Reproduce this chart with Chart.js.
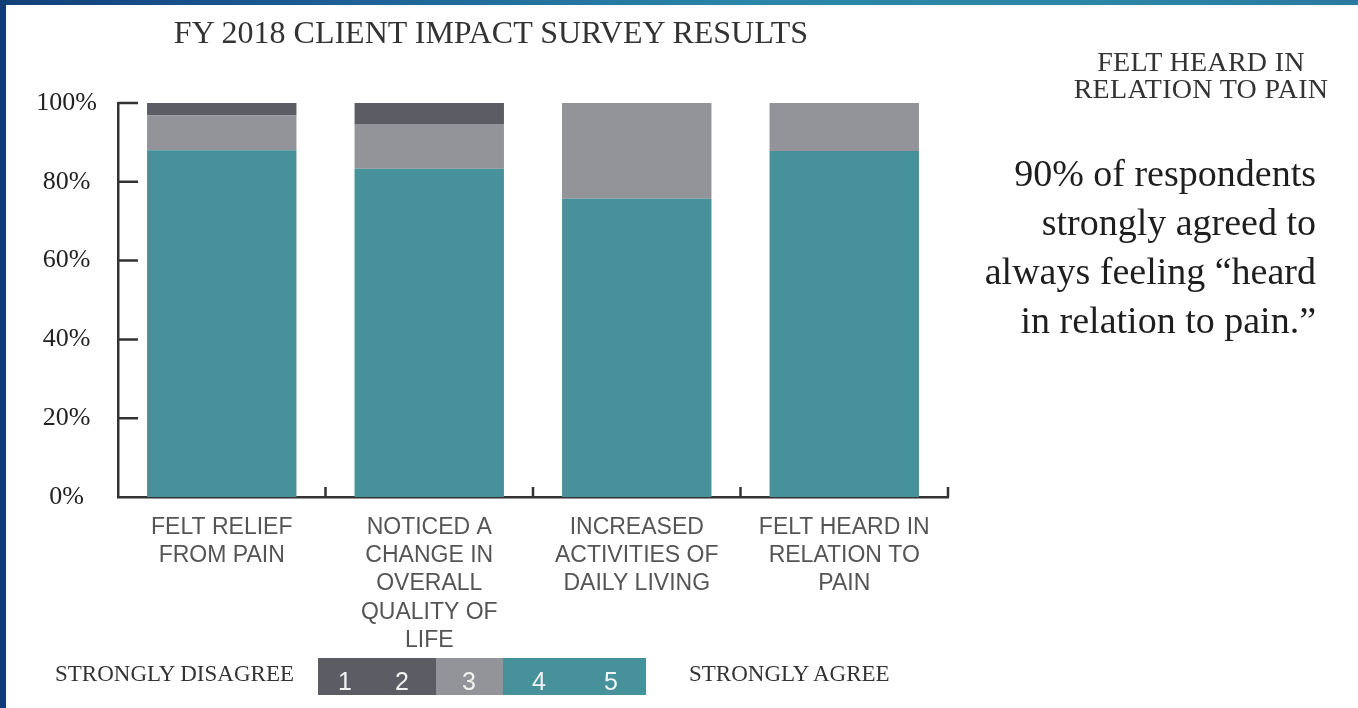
<!DOCTYPE html>
<html>
<head>
<meta charset="utf-8">
<script src="https://cdn.jsdelivr.net/npm/chart.js@4.4.1/dist/chart.umd.min.js"></script>
<style>
  html, body { margin:0; padding:0; background:#ffffff; }
  #wrap { position:relative; width:1358px; height:708px; overflow:hidden; background:#ffffff; }
  #topbar { position:absolute; left:0; top:0; width:1358px; height:5px;
    background:linear-gradient(90deg,#123f7a 0%,#1d5f95 25%,#2a86a8 55%,#2c86a6 80%,#2a79a0 100%); }
  #leftbar { position:absolute; left:0; top:0; width:6px; height:708px; background:#0f3c75; }
  canvas { position:absolute; left:0; top:0; }
  .serif { font-family:"Liberation Serif","Times New Roman",serif; color:#2b2b2b; position:absolute; white-space:nowrap; }
  #title { left:0; width:982px; text-align:center; top:14px; font-size:32px; line-height:36px; color:#333; }
  #rhead { left:1050px; width:302px; text-align:center; top:48px; font-size:28px; line-height:27px; color:#333; letter-spacing:0.3px; }
  #rbig { right:42px; text-align:right; top:149px; font-size:38px; line-height:49px; color:#1e1e1e; }
  #ldis { left:55px; top:662px; font-size:23px; line-height:23px; color:#333; }
  #lagr { left:689px; top:662px; font-size:23px; line-height:23px; color:#333; }
  .seg { position:absolute; top:658px; height:37px; }
  .num { position:absolute; top:667px; font-family:"Liberation Sans",Arial,sans-serif; font-size:25px; line-height:28px; color:#f2f2f2; transform:translateX(-50%); }
</style>
</head>
<body>
<div id="wrap">
  <canvas id="c" width="1358" height="708"></canvas>
  <div id="topbar"></div>
  <div id="leftbar"></div>
  <div id="title" class="serif"></div>
  <div id="rhead" class="serif"></div>
  <div id="rbig" class="serif"></div>
  <div id="ldis" class="serif"></div>
  <div id="lagr" class="serif"></div>
  <div id="legendbox"></div>
</div>
<script>
// ---- data ----
const categories = [
  ["FELT RELIEF", "FROM PAIN"],
  ["NOTICED A", "CHANGE IN", "OVERALL", "QUALITY OF", "LIFE"],
  ["INCREASED", "ACTIVITIES OF", "DAILY LIVING"],
  ["FELT HEARD IN", "RELATION TO", "PAIN"]
];
const seriesLabels = ["4-5", "3", "1-2"];
const agree45 = [88, 83.3, 75.7, 87.8];
const neutral3 = [8.8, 11.4, 24.3, 12.2];
const disagree12 = [3.4, 5.3, 0, 0];
const yTicks = [0, 20, 40, 60, 80, 100];
const colors = { agree:"#46919a", neutral:"#939499", disagree:"#5b5c64" };
const titleText = "FY 2018 CLIENT IMPACT SURVEY RESULTS";
const rightHeading = ["FELT HEARD IN", "RELATION TO PAIN"];
const rightBig = ["90% of respondents", "strongly agreed to", "always feeling \u201cheard", "in relation to pain.\u201d"];
const legendLeft = "STRONGLY DISAGREE";
const legendRight = "STRONGLY AGREE";
const legendScale = ["1", "2", "3", "4", "5"];

// ---- texts ----
document.getElementById('title').textContent = titleText;
document.getElementById('rhead').innerHTML = rightHeading.join('<br>');
document.getElementById('rbig').innerHTML = rightBig.join('<br>');
document.getElementById('ldis').textContent = legendLeft;
document.getElementById('lagr').textContent = legendRight;

// legend scale boxes
const lb = document.getElementById('legendbox');
const segs = [[318, 436, colors.disagree], [436, 503, colors.neutral], [503, 646, colors.agree]];
segs.forEach(s => {
  const d = document.createElement('div');
  d.className = 'seg';
  d.style.left = s[0] + 'px'; d.style.width = (s[1] - s[0]) + 'px'; d.style.background = s[2];
  lb.appendChild(d);
});
const numX = [345, 402, 469, 539, 611];
legendScale.forEach((n, i) => {
  const d = document.createElement('div');
  d.className = 'num'; d.textContent = n; d.style.left = numX[i] + 'px';
  lb.appendChild(d);
});

// ---- inward ticks plugin ----
const innerTicks = {
  id: 'innerTicks',
  afterDraw(chart) {
    const ctx = chart.ctx, x = chart.scales.x, y = chart.scales.y;
    const left = chart.chartArea.left, bottom = chart.chartArea.bottom;
    ctx.save();
    ctx.strokeStyle = '#333';
    ctx.lineWidth = 2.5;
    ctx.beginPath();
    yTicks.forEach(v => {
      if (v === 0) return;
      const py = y.getPixelForValue(v);
      ctx.moveTo(left, py); ctx.lineTo(left + 20, py);
    });
    for (let i = 0; i < categories.length; i++) {
      let px;
      if (i < categories.length - 1) px = (x.getPixelForValue(i) + x.getPixelForValue(i + 1)) / 2;
      else px = chart.chartArea.right;
      ctx.moveTo(px, bottom); ctx.lineTo(px, bottom - 10);
    }
    ctx.stroke();
    ctx.restore();
  }
};

new Chart(document.getElementById('c'), {
  type: 'bar',
  data: {
    labels: categories,
    datasets: [
      { label: seriesLabels[0], data: agree45, backgroundColor: colors.agree },
      { label: seriesLabels[1], data: neutral3, backgroundColor: colors.neutral },
      { label: seriesLabels[2], data: disagree12, backgroundColor: colors.disagree }
    ]
  },
  options: {
    responsive: false,
    animation: false,
    maintainAspectRatio: false,
    categoryPercentage: 1,
    barPercentage: 0.72,
    layout: { padding: { left: 0, top: 103, right: 410, bottom: 0 } },
    plugins: { legend: { display: false }, tooltip: { enabled: false }, title: { display: false } },
    scales: {
      x: {
        stacked: true,
        grid: { display: false, drawTicks: false },
        border: { display: true, color: '#333', width: 2.5 },
        ticks: {
          autoSkip: false, maxRotation: 0, minRotation: 0, padding: 17,
          color: '#555555',
          font: { family: '"Liberation Sans", Arial, sans-serif', size: 23, lineHeight: 1.22 }
        },
        afterFit(s) { s.height = 211; }
      },
      y: {
        stacked: true,
        min: 0, max: 100,
        afterBuildTicks(s) { s.ticks = yTicks.map(v => ({ value: v })); },
        grid: { display: false, drawTicks: false },
        border: { display: true, color: '#333', width: 2.5 },
        ticks: {
          crossAlign: 'center', padding: 21,
          color: '#222',
          font: { family: '"Liberation Serif", "Times New Roman", serif', size: 26 },
          callback: v => v + '%'
        },
        afterFit(s) { s.width = 118; }
      }
    }
  },
  plugins: [innerTicks]
});
</script>
</body>
</html>
